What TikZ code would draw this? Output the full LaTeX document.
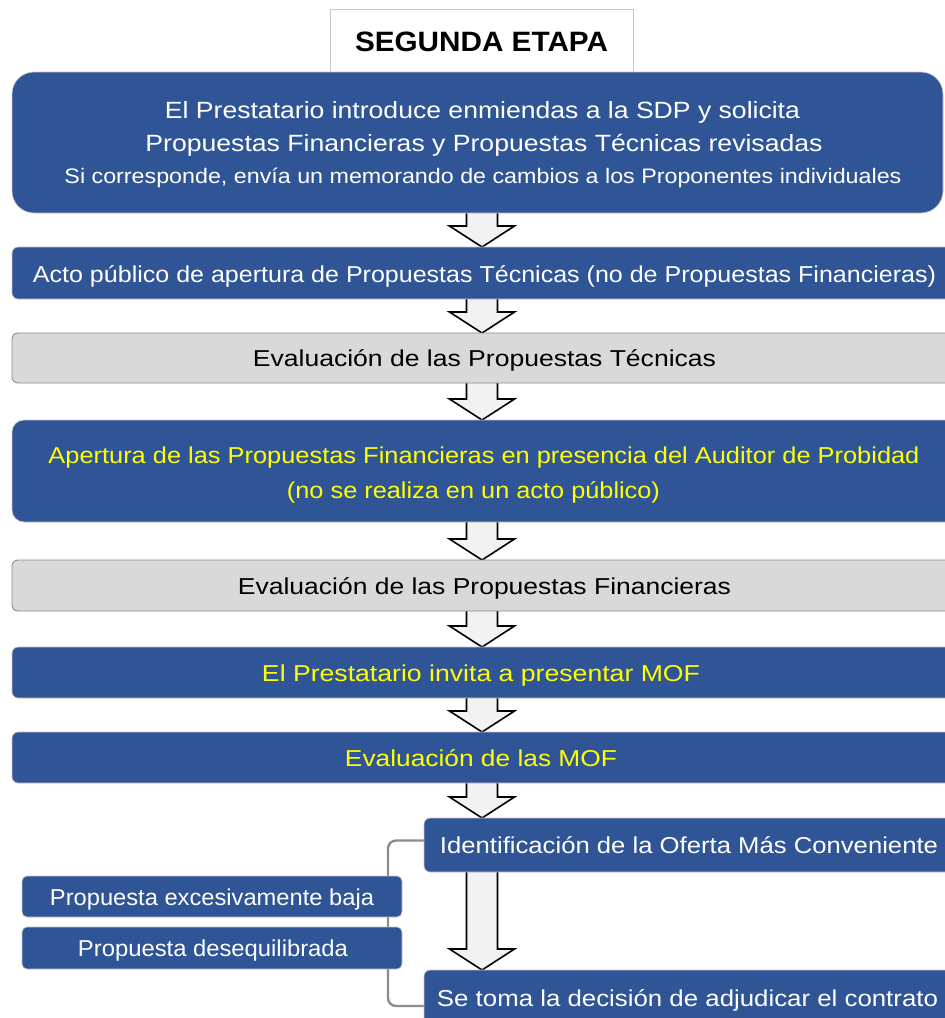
\documentclass[tikz,border=0pt]{standalone}
\usepackage{fontspec}
\setmainfont{Liberation Sans}
\usepackage{graphicx}
\usetikzlibrary{calc,backgrounds}
\definecolor{boxblue}{RGB}{47,85,151}
\definecolor{boxgray}{RGB}{217,217,217}
\definecolor{arrowfill}{RGB}{242,242,242}
\definecolor{txtyellow}{RGB}{255,255,0}
\definecolor{bracketgray}{RGB}{140,140,140}
\newcommand\fitw[3]{\resizebox{#1pt}{\height}{\fontsize{#2}{#2}\selectfont #3}}
\begin{document}
\begin{tikzpicture}[x=1pt,y=-1pt,
  boxbase/.style={anchor=north west, inner sep=0pt, outer sep=0pt},
  bluebox/.style={boxbase, fill=boxblue, draw=gray!45, line width=0.7pt, rounded corners=6pt},
  graybox/.style={boxbase, fill=boxgray, draw=gray!90, line width=0.9pt, rounded corners=6pt},
  titlebox/.style={boxbase, fill=white, draw=gray!45, line width=0.8pt},
  lbl/.style={inner sep=0pt, outer sep=0pt, text height=16.5pt, text depth=0pt, anchor=center},
  blockarrow/.style={fill=arrowfill, draw=black, line width=1.6pt, line join=miter},
  bracket/.style={draw=bracketgray, line width=2.4pt, rounded corners=8pt}
]
\useasboundingbox (0,0) rectangle (945,1018);
\coordinate (axis) at (482,0);

% boxes
\node[titlebox, minimum width=303pt, minimum height=64pt] (title) at (330,9) {};
\node[bluebox, rounded corners=22pt, minimum width=931pt, minimum height=141pt] (b1) at (12,72) {};
\node[bluebox, minimum width=945pt, minimum height=52pt] (b2) at (12,247) {};
\node[graybox, minimum width=945pt, minimum height=50pt] (b3) at (12,333) {};
\node[bluebox, rounded corners=12pt, minimum width=945pt, minimum height=102pt] (b4) at (12,420) {};
\node[graybox, minimum width=945pt, minimum height=51pt] (b5) at (12,560) {};
\node[bluebox, minimum width=945pt, minimum height=51pt] (b6) at (12,647) {};
\node[bluebox, minimum width=945pt, minimum height=51pt] (b7) at (12,732) {};
\node[bluebox, minimum width=540pt, minimum height=54pt] (b8) at (424,818) {};
\node[bluebox, minimum width=540pt, minimum height=56pt] (b9) at (424,970) {};
\node[bluebox, rounded corners=5pt, minimum width=380pt, minimum height=41pt] (l1) at (22,876) {};
\node[bluebox, rounded corners=5pt, minimum width=380pt, minimum height=42pt] (l2) at (22,927) {};

% texts
\node[lbl, text height=20pt] (t0) at (481.5,41.7) {\fitw{253}{28}{\bfseries SEGUNDA ETAPA}};
\node[lbl, white, text height=17pt] (t1a) at (482.5,110) {\fitw{635}{23.5}{El Prestatario introduce enmiendas a la SDP y solicita}};
\node[lbl, white, text height=17pt] (t1b) at (484,143) {\fitw{677}{23.5}{Propuestas Financieras y Propuestas Técnicas revisadas}};
\node[lbl, white, text height=15pt] (t1c) at (483,176) {\fitw{837}{21}{Si corresponde, envía un memorando de cambios a los Proponentes individuales}};
\node[lbl, white] (t2) at (484.5,274.5) {\fitw{903}{23}{Acto público de apertura de Propuestas Técnicas (no de Propuestas Financieras)}};
\node[lbl, black] (t3) at (484.5,358) {\fitw{463}{23}{Evaluación de las Propuestas Técnicas}};
\node[lbl, txtyellow] (t4a) at (484,455.5) {\fitw{871}{23}{Apertura de las Propuestas Financieras en presencia del Auditor de Probidad}};
\node[lbl, txtyellow] (t4b) at (473.5,490) {\fitw{373}{23}{(no se realiza en un acto público)}};
\node[lbl, black] (t5) at (484.5,586) {\fitw{493}{23}{Evaluación de las Propuestas Financieras}};
\node[lbl, txtyellow] (t6) at (481,673) {\fitw{438}{23}{El Prestatario invita a presentar MOF}};
\node[lbl, txtyellow] (t7) at (481,758) {\fitw{272}{23}{Evaluación de las MOF}};
\node[lbl, white] (t8) at (689,845) {\fitw{498}{23}{Identificación de la Oferta Más Conveniente}};
\node[lbl, white] (t9) at (687.5,998) {\fitw{501}{23}{Se toma la decisión de adjudicar el contrato}};
\node[lbl, white] (tl1) at (212,897) {\fitw{324}{23}{Propuesta excesivamente baja}};
\node[lbl, white] (tl2) at (213,948) {\fitw{270}{23}{Propuesta desequilibrada}};

\newcommand\barrow[2]{%
  \path (#1.south -| axis) coordinate (bs) (#2.north -| axis) coordinate (bt);
  \draw[blockarrow] ($(bs)+(-15.5,-4)$) -- ($(bt)+(-15.5,-21)$) -- ($(bt)+(-32.5,-21)$) -- (bt)
     -- ($(bt)+(32.5,-21)$) -- ($(bt)+(15.5,-21)$) -- ($(bs)+(15.5,-4)$) -- cycle;}

\begin{pgfonlayer}{background}
\barrow{b1}{b2}
\barrow{b2}{b3}
\barrow{b3}{b4}
\barrow{b4}{b5}
\barrow{b5}{b6}
\barrow{b6}{b7}
\barrow{b7}{b8}
\barrow{b8}{b9}
\draw[bracket] ([yshift=4.5pt]b8.west) -- ++(-36,0) |- ([yshift=-8pt]b9.west);
\end{pgfonlayer}
\end{tikzpicture}
\end{document}
